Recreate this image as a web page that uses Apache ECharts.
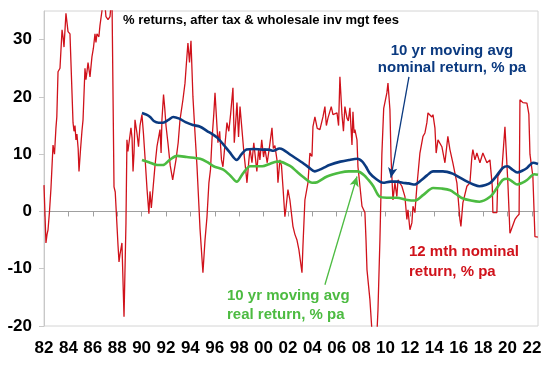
<!DOCTYPE html>
<html><head><meta charset="utf-8">
<script src="https://cdn.jsdelivr.net/npm/echarts@6/dist/echarts.min.js"></script>
<style>html,body{margin:0;padding:0;background:#fff}#c{width:548px;height:366px}</style>
</head><body><div id="c"></div>
<script>
const xTickYears = [1982,1984,1986,1988,1990,1992,1994,1996,1998,2000,2002,2004,2006,2008,2010,2012,2014,2016,2018,2020,2022];
const yTicks = [-20,-10,0,10,20,30];
const red12m = [[1982.00,4.6],[1982.16,-5.5],[1982.25,-4.0],[1982.33,-3.2],[1982.45,0],[1982.57,4],[1982.74,11.6],[1982.86,10.0],[1982.98,14.6],[1983.05,16.5],[1983.15,24.4],[1983.31,25.0],[1983.48,31.7],[1983.56,30.5],[1983.64,28.7],[1983.80,34.6],[1983.97,31.4],[1984.13,31.0],[1984.38,15.5],[1984.46,14.0],[1984.54,15.0],[1984.62,12.5],[1984.70,13.5],[1984.80,11.0],[1984.87,7.0],[1985.0,11],[1985.11,14.0],[1985.20,16.0],[1985.36,25.0],[1985.44,23.0],[1985.53,24.5],[1985.61,26.0],[1985.77,23.5],[1985.93,27.0],[1986.05,28.5],[1986.18,31.0],[1986.26,29.5],[1986.34,31.0],[1986.50,30.5],[1986.59,32.5],[1986.75,35.0],[1986.92,38.0],[1987.08,34.0],[1987.25,33.5],[1987.41,34.0],[1987.57,38],[1987.70,38],[1987.74,4.3],[1987.84,3.4],[1988.07,-6.0],[1988.15,-8.8],[1988.23,-7.5],[1988.31,-7.2],[1988.39,-5.5],[1988.56,-18.4],[1988.72,-2.0],[1988.80,12.5],[1988.88,10.5],[1988.97,12.0],[1989.13,14.6],[1989.22,12.8],[1989.30,7.0],[1989.38,10.2],[1989.46,16.0],[1989.62,13.7],[1989.75,11.3],[1989.87,15],[1990.03,16.9],[1990.15,13.7],[1990.28,9.5],[1990.45,3.8],[1990.60,-0.4],[1990.69,3.5],[1990.80,0.6],[1990.93,3.8],[1991.10,8],[1991.26,11.3],[1991.51,14.3],[1991.60,10.2],[1991.67,16],[1991.80,20.4],[1991.90,18],[1992.00,15],[1992.16,12],[1992.35,8],[1992.55,5.5],[1992.82,9],[1993.0,12],[1993.15,16],[1993.39,19.5],[1993.56,22.4],[1993.68,26],[1993.80,29.4],[1993.93,26],[1994.05,29.8],[1994.21,20],[1994.37,14],[1994.54,8],[1994.70,1],[1994.79,-3],[1995.03,-10.7],[1995.20,-5],[1995.36,-1],[1995.52,5],[1995.65,7.3],[1995.77,12.5],[1995.92,17],[1996.02,20.7],[1996.18,21],[1996.26,12],[1996.40,14],[1996.55,9],[1996.67,7.8],[1996.85,12],[1997.0,15.5],[1997.15,14],[1997.3,17],[1997.49,21.6],[1997.60,12],[1997.70,15],[1997.82,19],[1997.95,13],[1998.07,18.3],[1998.23,18],[1998.40,10],[1998.55,7],[1998.64,5],[1998.80,9],[1998.89,11],[1999.05,8.5],[1999.2,12],[1999.30,10],[1999.45,7],[1999.6,11],[1999.70,9],[1999.85,12.5],[2000.0,9.5],[2000.11,11],[2000.3,8.5],[2000.5,11.5],[2000.69,14.6],[2000.80,11],[2000.93,11.5],[2001.1,9],[2001.18,5],[2001.34,9],[2001.47,8],[2001.59,4.3],[2001.75,-0.9],[2001.84,0.6],[2002.0,3.8],[2002.16,2],[2002.41,-2.6],[2002.57,-4],[2002.74,-5],[2002.9,-6.7],[2003.15,-10.7],[2003.23,-6],[2003.39,2],[2003.64,5],[2003.80,10.2],[2003.97,9.6],[2004.05,14.8],[2004.21,16.5],[2004.4,14.5],[2004.62,14.3],[2004.87,16.5],[2005.03,18.3],[2005.15,15],[2005.28,16.3],[2005.44,16],[2005.55,18.3],[2005.69,16.9],[2006.02,17.2],[2006.15,15],[2006.26,23.5],[2006.43,16.9],[2006.55,14],[2006.67,18.3],[2006.84,16.3],[2006.95,15.8],[2007.08,18.1],[2007.25,11.6],[2007.33,17.4],[2007.42,13.7],[2007.49,14.3],[2007.66,12.5],[2007.74,7.8],[2008.07,0.9],[2008.31,-0.2],[2008.40,-5],[2008.48,-10.2],[2008.72,-15.4],[2008.89,-21],[2009.30,-21],[2009.38,-17.2],[2009.54,-5],[2009.70,10],[2009.85,18],[2010.11,20.7],[2010.20,22.4],[2010.36,17.8],[2010.45,9.6],[2010.52,6.1],[2010.61,2],[2010.77,5],[2010.93,2.6],[2011.02,5.5],[2011.34,4.4],[2011.59,2.6],[2011.75,-1.4],[2011.84,0.3],[2012.0,-3.2],[2012.16,-2],[2012.25,0.9],[2012.41,-0.2],[2012.57,4.4],[2012.82,10.2],[2013.07,13.1],[2013.23,13.7],[2013.39,15.5],[2013.48,17.2],[2013.64,17.5],[2013.80,16.5],[2013.89,16.9],[2014.05,14.6],[2014.15,10.2],[2014.30,12.5],[2014.62,11.3],[2014.87,8.5],[2015.11,13.1],[2015.28,10.8],[2015.52,8.5],[2015.85,5],[2016.10,-1.4],[2016.18,-2.6],[2016.34,1.5],[2016.67,4.4],[2016.92,5],[2017.08,9.6],[2017.16,10.8],[2017.33,9],[2017.49,10.2],[2017.74,8.5],[2017.98,10.2],[2018.31,8.5],[2018.56,9],[2018.75,4.4],[2018.80,-0.2],[2019.13,-0.2],[2019.21,6.1],[2019.54,7.3],[2019.79,14.8],[2019.95,14.8],[2020.03,5],[2020.20,-3.8],[2020.61,-1.4],[2020.77,-0.9],[2020.95,-0.5],[2021.02,19.5],[2021.26,19],[2021.59,18.9],[2021.67,18],[2021.75,17],[2021.84,10],[2022.08,6.1],[2022.25,-4.4],[2022.49,-4.5]];
const nominal10y = [[1990.03,17.2],[1990.4,16.9],[1990.7,16.5],[1991.0,15.8],[1991.4,15.5],[1991.75,15.5],[1992.2,16.0],[1992.6,16.5],[1993.1,16.2],[1993.6,15.6],[1994.2,15.1],[1994.8,14.8],[1995.4,14.0],[1995.8,13.5],[1996.2,12.9],[1996.7,11.7],[1997.2,10.4],[1997.8,9.0],[1998.2,10.0],[1998.6,10.8],[1999.2,10.9],[1999.9,10.8],[2000.4,10.8],[2000.8,10.6],[2001.3,11.0],[2001.6,10.8],[2002.2,9.9],[2002.7,9.2],[2003.2,8.5],[2003.7,7.7],[2004.2,7.0],[2004.6,7.3],[2005.0,7.7],[2005.4,8.1],[2006.3,8.7],[2007.0,9.0],[2007.7,9.2],[2008.1,8.7],[2008.4,7.8],[2008.7,6.7],[2009.2,5.7],[2009.8,5.0],[2010.4,5.2],[2010.9,5.2],[2011.4,5.0],[2011.9,4.9],[2012.4,4.7],[2012.9,5.4],[2013.4,6.3],[2013.9,7.0],[2014.7,7.0],[2015.5,6.6],[2016.1,5.9],[2016.7,5.2],[2017.2,4.7],[2017.7,4.4],[2018.2,4.6],[2018.6,5.0],[2019.1,6.2],[2019.6,7.6],[2020.0,7.9],[2020.4,7.3],[2020.8,6.8],[2021.2,7.1],[2021.6,7.6],[2022.1,8.5],[2022.5,8.3]];
const real10y = [[1990.03,9.0],[1990.6,8.6],[1991.3,8.1],[1991.75,8.1],[1992.3,9.0],[1992.9,9.7],[1993.7,9.5],[1994.8,9.2],[1995.4,8.6],[1995.9,7.9],[1996.7,7.3],[1997.3,6.2],[1997.8,5.2],[1998.3,6.6],[1998.9,7.9],[1999.9,7.9],[2000.5,8.3],[2001.1,8.7],[2001.3,8.7],[2002.2,7.9],[2002.7,7.0],[2003.2,6.1],[2004.0,5.0],[2004.4,5.1],[2005.2,6.1],[2006.3,6.8],[2007.0,7.0],[2007.7,7.0],[2008.2,6.4],[2008.6,5.5],[2009.0,4.4],[2009.5,2.6],[2010.1,2.4],[2010.9,2.4],[2011.8,2.0],[2012.4,1.9],[2013.1,2.9],[2013.9,4.1],[2014.6,4.0],[2015.3,3.7],[2015.8,3.0],[2016.3,2.3],[2017.0,1.9],[2017.7,1.7],[2018.6,2.6],[2019.1,4.0],[2019.6,5.5],[2020.0,5.7],[2020.4,5.2],[2020.8,4.7],[2021.2,5.0],[2021.6,5.5],[2022.2,6.5],[2022.5,6.4]];
// annotation arrows (data coordinates)
const blueArrow = [[2011.92,23.5],[2010.44,5.9]];
const greenArrow = [[2005.03,-12.8],[2007.66,6.1]];

const chart = echarts.init(document.getElementById('c'), null, {renderer:'canvas'});
const FONT = '"Liberation Sans", Arial, sans-serif';
const RED = '#d0121b', BLUE = '#0b3a80', GREEN = '#4cbb41';
const labelStyle = {color:'#000', fontWeight:'bold', fontSize:17, fontFamily:FONT};
chart.setOption({
  animation:false,
  grid:{left:44, top:11, right:10, bottom:40, show:true, borderColor:'#d4d4d4', borderWidth:1, containLabel:false},
  xAxis:[{
    type:'value', min:1982, max:2022.5,
    axisLine:{show:true, onZero:true, lineStyle:{color:'#a0a0a0', width:1}},
    axisTick:{show:true, inside:false, length:5, customValues:xTickYears, lineStyle:{color:'#a0a0a0'}},
    axisLabel:{show:false}, splitLine:{show:false}
  },{
    type:'value', min:1982, max:2022.5, position:'bottom',
    axisLine:{show:false, onZero:false}, axisTick:{show:false}, splitLine:{show:false},
    axisLabel:Object.assign({show:true, margin:14, customValues:xTickYears,
      formatter:v=>String(Math.round(v)%100).padStart(2,'0')}, labelStyle)
  }],
  yAxis:{
    type:'value', min:-20, max:35,
    axisLine:{show:true, lineStyle:{color:'#c8c8c8'}},
    axisTick:{show:true, length:5, customValues:yTicks, lineStyle:{color:'#c8c8c8'}},
    axisLabel:Object.assign({margin:12, customValues:yTicks}, labelStyle),
    splitLine:{show:false}
  },
  series:[
    {type:'line', name:'12m', data:red12m, showSymbol:false, symbol:'none', clip:true,
     lineStyle:{color:RED, width:1.3}, z:2},
    {type:'line', name:'real', data:real10y, showSymbol:false, symbol:'none', smooth:0.3,
     lineStyle:{color:GREEN, width:2.6}, z:3,
     markLine:{silent:true, symbol:['none','arrow'], symbolSize:[7,10], label:{show:false},
       lineStyle:{color:GREEN, width:1.3, type:'solid'},
       data:[[{coord:greenArrow[0]},{coord:greenArrow[1]}]]}},
    {type:'line', name:'nominal', data:nominal10y, showSymbol:false, symbol:'none', smooth:0.3,
     lineStyle:{color:BLUE, width:2.6}, z:4,
     markLine:{silent:true, symbol:['none','arrow'], symbolSize:[7,10], label:{show:false},
       lineStyle:{color:BLUE, width:1.3, type:'solid'},
       data:[[{coord:blueArrow[0]},{coord:blueArrow[1]}]]}}
  ],
  graphic:[
    {type:'text', left:123, top:14, style:{text:'% returns, after tax & wholesale inv mgt fees', fill:'#000', font:'bold 13px '+FONT}},
    {type:'text', x:452, y:42, style:{text:'10 yr moving avg\nnominal return, % pa', fill:BLUE, font:'bold 15px '+FONT, align:'center', lineHeight:17}},
    {type:'text', x:227, y:286, style:{text:'10 yr moving avg\nreal return, % pa', fill:GREEN, font:'bold 15px '+FONT, align:'left', lineHeight:19}},
    {type:'text', x:409, y:242, style:{text:'12 mth nominal\nreturn, % pa', fill:RED, font:'bold 15px '+FONT, align:'left', lineHeight:20}}
  ]
});
</script></body></html>
